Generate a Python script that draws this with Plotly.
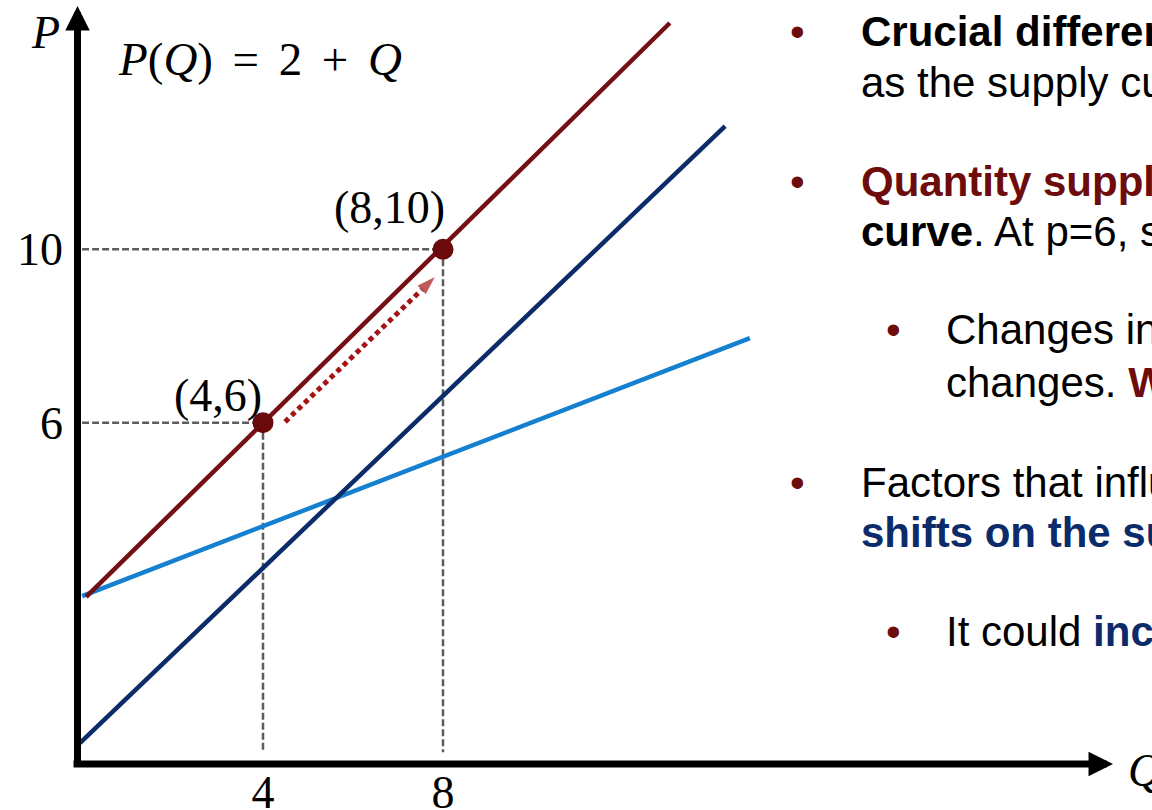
import plotly.graph_objects as go

W, H = 1152, 810

# supply curves as drawn on the slide (end points, Q and P)
supply_q = [0.07, 13.04]      # P(Q) = 2 + Q
supply_p = [1.98, 15.22]
shifted_q = [-0.07, 14.27]    # navy, shifted curve
shifted_p = [-1.39, 12.84]
flatter_q = [-0.02, 14.82]    # light blue, flatter curve
flatter_p = [2.0, 7.95]

point_q = [4, 8]
point_p = [6, 10]
point_labels = ["(4,6)", "(8,10)"]

# movement along the curve
move_q = [4.49, 7.84]
move_p = [6.02, 9.38]

q_ticks = [4, 8]
p_ticks = [6, 10]

guide_left = -0.02
guide_floor = -1.6

RED = "#741015"
DOT_RED = "#6a0a0a"
ARROW_RED = "#a31414"
NAVY = "#0c2b69"
LIGHT = "#1580d0"
GREY = "#5c5c5c"
TXT_RED = "#6e0b0b"
TXT_BLUE = "#0b2b6b"

SERIF = "Liberation Serif, DejaVu Serif, serif"
SANS = "Arial, Liberation Sans, sans-serif"

# pixel calibration of the drawing
Q0, QS = 83, 45.0
P0, PS = 682.8, 43.35
ML, MB = 78, 46


def qx(px):
    return (px - Q0) / QS


def pp(py):
    return (P0 - py) / PS


def xpap(px):
    return (px - ML) / (W - ML)


def ypap(py):
    return (H - MB - py) / (H - MB)


fig = go.Figure()

# dashed guides
gx, gy = [], []
for q, p in zip(point_q, point_p):
    gx += [guide_left, q, None, q, q, None]
    gy += [p, p, None, p, guide_floor, None]
fig.add_trace(go.Scatter(x=gx, y=gy, mode="lines",
                         line=dict(color=GREY, width=2.5, dash="7px,3px")))

fig.add_trace(go.Scatter(x=flatter_q, y=flatter_p, mode="lines",
                         line=dict(color=LIGHT, width=4.5)))
fig.add_trace(go.Scatter(x=shifted_q, y=shifted_p, mode="lines",
                         line=dict(color=NAVY, width=4.5)))
fig.add_trace(go.Scatter(x=supply_q, y=supply_p, mode="lines",
                         line=dict(color=RED, width=4.5)))

fig.add_trace(go.Scatter(x=move_q, y=move_p, mode="lines+markers",
                         line=dict(color=ARROW_RED, width=5, dash="5px,4px"),
                         marker=dict(symbol="arrow", size=[0, 21], angleref="previous",
                                     color=ARROW_RED)))

fig.add_trace(go.Scatter(x=point_q, y=point_p, mode="markers",
                         marker=dict(size=21, color=DOT_RED)))

# axes with arrow heads (tail given as a pixel offset from the tip)
fig.add_annotation(x=xpap(1113), y=ypap(764), ax=72 - 1113, ay=0,
                   xref="paper", yref="paper", text="",
                   showarrow=True, arrowhead=2, arrowsize=0.7, arrowwidth=7,
                   arrowcolor="black")
fig.add_annotation(x=xpap(77.5), y=ypap(6), ax=0, ay=768 - 6,
                   xref="paper", yref="paper", text="",
                   showarrow=True, arrowhead=2, arrowsize=0.7, arrowwidth=7,
                   arrowcolor="black")

serif = dict(family=SERIF, size=46, color="black")
fig.add_annotation(x=xpap(45), y=ypap(33), xref="paper", yref="paper",
                   text="<i>P</i>", showarrow=False, xanchor="center", yanchor="middle",
                   font=serif)
fig.add_annotation(x=xpap(1126), y=ypap(770), xref="paper", yref="paper",
                   text="<i>Q</i>", showarrow=False, xanchor="left", yanchor="middle",
                   font=serif)
sp = "\u2004\u200a"
fig.add_annotation(x=qx(116), y=pp(59),
                   text=f"<i>P</i>(<i>Q</i>){sp}={sp}2{sp}+{sp}<i>Q</i>",
                   showarrow=False, xanchor="left", yanchor="middle",
                   font=dict(family=SERIF, size=47, color="black"))

label_px = [(218, 395), (389, 207)]
for lbl, (lx, ly) in zip(point_labels, label_px):
    fig.add_annotation(x=qx(lx), y=pp(ly), text=lbl, showarrow=False,
                       xanchor="center", yanchor="middle", font=serif)

# bullet text on the right, cut by the slide edge
rows = [
    (1, 47, True, "<b>Crucial difference</b>"),
    (1, 98, False, "as the supply curve"),
    (1, 197, True, f"<b><span style='color:{TXT_RED}'>Quantity supplied</span></b>"),
    (1, 247, False, "<b>curve</b>. At p=6, s"),
    (2, 345, True, "Changes in"),
    (2, 398, False, f"changes. <b><span style='color:{TXT_RED}'>W</span></b>"),
    (1, 498, True, "Factors that influence"),
    (1, 548, False, f"<b><span style='color:{TXT_BLUE}'>shifts on the supply</span></b>"),
    (2, 647, True, f"It could <b><span style='color:{TXT_BLUE}'>increase</span></b>"),
]
text_x = {1: 859, 2: 944}
bullet_x = {1: 797, 2: 893}
sans = dict(family=SANS, size=42, color="black")
for level, base, bullet, html in rows:
    yc = ypap(base - 15.5)
    fig.add_annotation(x=xpap(text_x[level]), y=yc, xref="paper", yref="paper",
                       text=html, showarrow=False, xanchor="left", yanchor="middle",
                       font=sans)
    if bullet:
        fig.add_annotation(x=xpap(bullet_x[level]), y=yc, xref="paper", yref="paper",
                           text="\u2022", showarrow=False, xanchor="center",
                           yanchor="middle", font=dict(family=SANS, size=42, color=TXT_RED))

fig.update_layout(width=W, height=H, template="none", showlegend=False,
                  margin=dict(l=ML, r=0, t=0, b=MB),
                  plot_bgcolor="white", paper_bgcolor="white")
fig.update_xaxes(range=[qx(ML), qx(W)], showgrid=False, zeroline=False, showline=False,
                 tickvals=q_ticks, ticktext=[str(v) for v in q_ticks], ticks="",
                 tickfont=serif, automargin=False, ticklabelstandoff=-3)
fig.update_yaxes(range=[pp(H - MB), pp(0)], showgrid=False, zeroline=False, showline=False,
                 tickvals=p_ticks, ticktext=[str(v) for v in p_ticks], ticks="",
                 tickfont=serif, automargin=False, ticklabelstandoff=14)

# the page body has a default 8px margin; drop it so the figure sits at the corner
fig.write_html("out.html", config={"displayModeBar": False},
               post_script="document.body.style.margin='0';")
